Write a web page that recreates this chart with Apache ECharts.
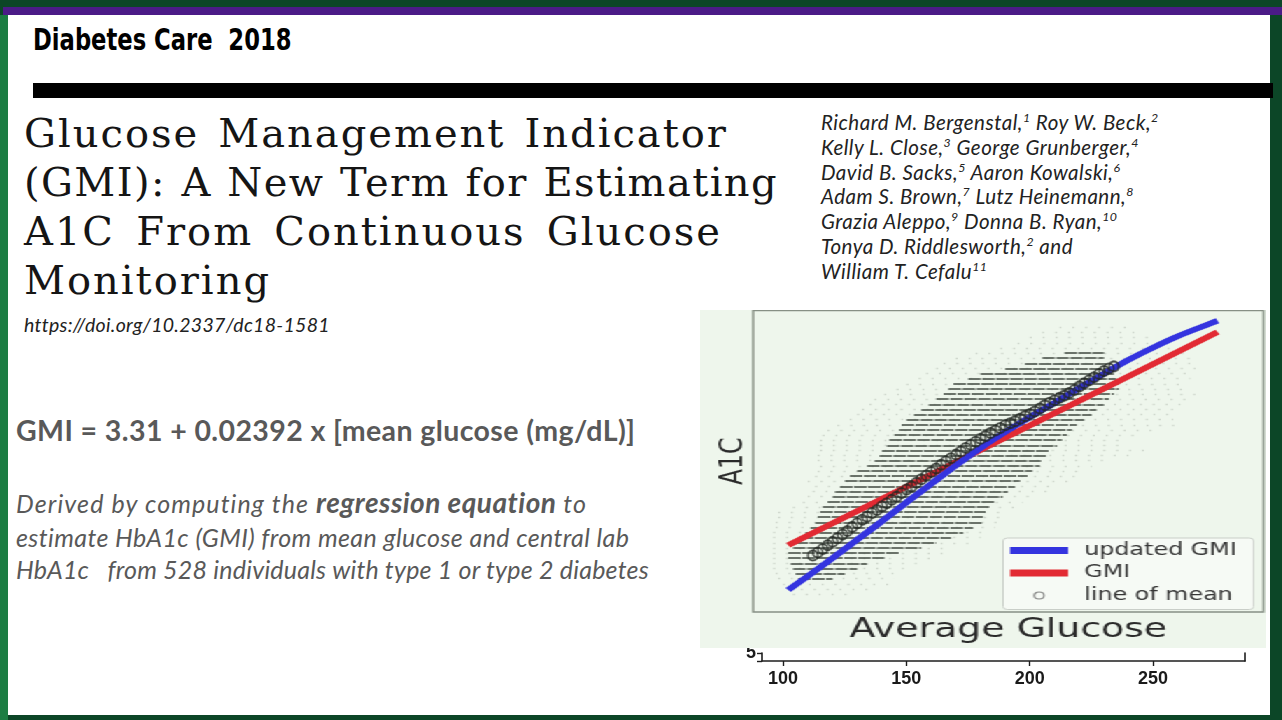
<!DOCTYPE html>
<html><head><meta charset="utf-8">
<script src="https://cdn.jsdelivr.net/npm/echarts@6/dist/echarts.min.js"></script>
<style>
html,body{margin:0;padding:0;width:1282px;height:720px;overflow:hidden;background:#0c4627;}
.abs{position:absolute;white-space:pre;line-height:1;}
#white{position:absolute;left:8px;top:15px;width:1262px;height:700px;background:#fff;}
#purple{position:absolute;left:3px;top:7px;width:1279px;height:8px;background:#4b1b87;}
#lstrip{position:absolute;left:0;top:15px;width:8px;height:705px;background:#1c7d43;}
#blackbar{position:absolute;left:33px;top:83px;width:1240px;height:15px;background:#000;}
#journal{left:33px;top:25px;font-family:"DejaVu Sans Condensed",Lato,sans-serif;font-weight:bold;font-size:30px;color:#000;transform:scaleX(0.84);transform-origin:0 0;}
.tl{position:absolute;left:24px;font-family:"DejaVu Serif",serif;font-size:40px;line-height:1;color:#151515;white-space:nowrap;text-align:justify;text-align-last:justify;letter-spacing:2px;}
#doi{left:24px;top:315px;font-family:Lato,sans-serif;font-style:italic;font-size:19.5px;letter-spacing:0.3px;color:#222;}
#authors{left:821px;top:110px;font-family:Lato,sans-serif;font-style:italic;font-size:20.5px;line-height:24.8px;color:#222;letter-spacing:0.5px;}
#authors sup{font-size:60%;vertical-align:0;position:relative;top:-0.65em;line-height:0;}
#formula{left:16px;top:416px;font-family:Lato,sans-serif;font-weight:bold;font-size:28.5px;letter-spacing:0.4px;color:#595959;}
.para{left:16px;font-family:Lato,sans-serif;font-style:italic;font-size:25px;letter-spacing:0.4px;color:#595959;}
.para b{font-size:28px;font-weight:bold;letter-spacing:0.5px;}
#chartTop{position:absolute;left:700px;top:310px;width:403.57px;height:338px;transform:scaleX(1.4);transform-origin:0 0;background:#eef6ec;z-index:3;}
#chartBottom{position:absolute;left:700px;top:640px;width:582px;height:60px;z-index:2;}
</style></head><body>
<div id="white"></div>
<div id="purple"></div>
<div id="lstrip"></div>
<div id="blackbar"></div>
<div id="journal" class="abs">Diabetes Care  2018</div>
<div class="tl" style="top:113px;width:704px;">Glucose Management Indicator</div>
<div class="tl" style="top:162px;width:754px;letter-spacing:1.4px;">(GMI): A New Term for Estimating</div>
<div class="tl" style="top:211px;width:698px;">A1C From Continuous Glucose</div>
<div class="tl" style="top:260px;">Monitoring</div>
<div id="doi" class="abs">https://doi.org/10.2337/dc18-1581</div>
<div id="authors" class="abs">Richard M. Bergenstal,<sup>1</sup> Roy W. Beck,<sup>2</sup>
Kelly L. Close,<sup>3</sup> George Grunberger,<sup>4</sup>
David B. Sacks,<sup>5</sup> Aaron Kowalski,<sup>6</sup>
Adam S. Brown,<sup>7</sup> Lutz Heinemann,<sup>8</sup>
Grazia Aleppo,<sup>9</sup> Donna B. Ryan,<sup>10</sup>
Tonya D. Riddlesworth,<sup>2</sup> and
William T. Cefalu<sup>11</sup></div>
<div id="formula" class="abs">GMI = 3.31 + 0.02392 x [mean glucose (mg/dL)]</div>
<div class="abs para" style="top:488px;letter-spacing:1.1px;">Derived by computing the <b>regression equation</b> to</div>
<div class="abs para" style="top:525px;">estimate HbA1c (GMI) from mean glucose and central lab</div>
<div class="abs para" style="top:557px;letter-spacing:0.22px;">HbA1c   from 528 individuals with type 1 or type 2 diabetes</div>
<div id="chartBottom"></div>
<div id="chartTop"></div>
<script>
// ---- scatter cloud: rows of points at each A1C level (glucose extents)
const rowLevel = [4.8,4.9,5.0,5.1,5.2,5.3,5.4,5.5,5.6,5.7,5.8,5.9,6.0,6.1,6.2,6.3,6.4,6.5,6.6,6.7,6.8,6.9,7.0,7.1,7.2,7.3,7.4,7.5,7.6,7.7,7.8,7.9,8.0,8.1,8.2,8.3,8.4,8.5,8.6,8.7,8.8,8.9,9.0,9.1,9.2,9.3,9.4,9.5,9.6,9.7,9.8,9.9,10.0];
const sparseLo = [104,102,100,98,97,96,96,96,96,96,96,96,96,97,97,98,98,104,108,110,112,113,110,113,114,115,114,114,115,115,115,116,118,122,127,130,132,135,137,141,146,150,155,158,162,165,170,178,188,195,200,205,212];
const sparseHi = [128,135,143,145,145,150,154,160,166,168,175,180,184,186,187,188,189,194,197,203,208,212,216,218,220,225,230,240,248,240,238,246,250,260,258,256,258,261,263,268,266,264,265,266,267,268,266,264,258,252,250,245,240];
const denseLo = [null,null,null,106,105,104,103,102,102,104,105,107,109,111,113,114,115,116,118,120,121,123,125,127,130,134,137,139,140,142,143,145,147,148,150,153,156,159,162,165,167,169,175,180,190,198,205,214,null,null,null,null,null];
const denseHi = [null,null,null,120,125,130,134,141,147,156,162,168,173,177,181,181,182,184,186,189,191,194,196,199,201,204,205,207,208,211,213,215,217,219,222,225,227,230,232,234,236,236,235,234,232,231,230,230,null,null,null,null,null];

// ---- updated GMI (blue curve)
const blueG = [102,110,120,130,140,150,160,170,180,190,200,210,220,230,240,250,260,270,276];
const blueA1C = [4.88,5.15,5.50,5.86,6.22,6.59,6.95,7.31,7.65,7.96,8.25,8.53,8.82,9.10,9.37,9.61,9.83,10.02,10.13];

// ---- GMI (red line)
const gmiG = [102,180,276];
const gmiA1C = [5.75,7.61,9.91];

// ---- line of mean (circles)
const meanG = [112,114,116,118,120,122,124,126,128,130,132,134,136,138,140,142,144,146,148,150,152,154,156,158,160,162,164,166,168,170,172,174,176,178,180,182,184,186,188,190,192,194,196,198,200,202,204,206,208,210,212,214,216,218,220,222,224,226,228,230,232,234];
const meanA1C = [5.55,5.61,5.68,5.75,5.82,5.89,5.96,6.03,6.11,6.18,6.25,6.31,6.38,6.44,6.51,6.57,6.64,6.70,6.77,6.84,6.90,6.97,7.04,7.11,7.18,7.25,7.32,7.39,7.45,7.52,7.58,7.65,7.71,7.77,7.83,7.88,7.94,7.99,8.04,8.09,8.13,8.17,8.22,8.27,8.31,8.36,8.42,8.48,8.53,8.58,8.63,8.67,8.72,8.78,8.85,8.91,8.97,9.03,9.09,9.15,9.20,9.24];

// ---- lower axis tick labels
const xTicks = [100,150,200,250];
const yTicks = [5];

const seriesNames = ['updated GMI','GMI','line of mean'];

const sparseRows = [], denseRows = [];
rowLevel.forEach((L,i)=>{
  sparseRows.push({coords:[[sparseLo[i],L],[sparseHi[i],L]]});
  if (denseLo[i] != null) denseRows.push({coords:[[denseLo[i],L],[denseHi[i],L]]});
});

const chartT = echarts.init(document.getElementById('chartTop'));
chartT.setOption({
  animation:false,
  grid:{left:37.9,right:1.5,top:0.5,bottom:33,show:true,borderColor:'#879085',borderWidth:1.5,backgroundColor:'transparent'},
  xAxis:{type:'value',min:87.8,max:294.6,name:'Average Glucose',nameLocation:'middle',nameGap:4,
    nameTextStyle:{fontFamily:'DejaVu Sans',fontSize:27,color:'#2a2a2a',verticalAlign:'top'},
    axisLine:{show:false},axisTick:{show:false},axisLabel:{show:false},splitLine:{show:false}},
  yAxis:{type:'value',min:4.45,max:10.33,name:'A1C',nameLocation:'middle',nameGap:2,nameRotate:90,
    nameTextStyle:{fontFamily:'DejaVu Sans',fontSize:23.5,color:'#2a2a2a'},
    axisLine:{show:false},axisTick:{show:false},axisLabel:{show:false},splitLine:{show:false}},
  legend:{left:216.5,top:228,orient:'vertical',padding:[4,12,5.5,5],itemWidth:41.5,itemHeight:7,itemGap:5.5,
    backgroundColor:'rgba(246,250,245,0.96)',borderColor:'#c9cec8',borderWidth:1,borderRadius:3,
    textStyle:{fontFamily:'DejaVu Sans',fontSize:17,lineHeight:17,color:'#363636',padding:[0,0,0,6.5]},
    data:[{name:seriesNames[0],icon:'rect'},{name:seriesNames[1],icon:'rect'},
      {name:seriesNames[2],icon:'circle',itemStyle:{color:'rgba(0,0,0,0)',borderColor:'#6a6a6a',borderWidth:1.2}}]},
  series:[
    {type:'lines',name:'cloud-sparse',coordinateSystem:'cartesian2d',silent:true,z:1,
      lineStyle:{color:'#7f887d',width:1.4,type:[1.2,8],opacity:0.33},data:sparseRows},
    {type:'lines',name:'cloud-dense',coordinateSystem:'cartesian2d',silent:true,z:2,
      lineStyle:{color:'#4a524a',width:2,type:[9,1],opacity:0.8},data:denseRows},
    {type:'line',name:seriesNames[1],z:3,color:'#e22a33',showSymbol:false,symbol:'none',
      itemStyle:{color:'#e22a33'},lineStyle:{color:'#e22a33',width:5.5},
      data:gmiG.map((g,i)=>[g,gmiA1C[i]])},
    {type:'line',name:seriesNames[0],z:4,color:'#3434df',showSymbol:false,symbol:'none',smooth:0.3,
      itemStyle:{color:'#3434df'},lineStyle:{color:'#3434df',width:5.5},
      data:blueG.map((g,i)=>[g,blueA1C[i]])},
    {type:'scatter',name:seriesNames[2],z:5,symbol:'circle',symbolSize:[7,10],
      itemStyle:{color:'rgba(0,0,0,0)',borderColor:'#232823',borderWidth:1.7},
      data:meanG.map((g,i)=>[g,meanA1C[i]])}
  ]
});

const chartB = echarts.init(document.getElementById('chartBottom'));
chartB.setOption({
  animation:false,
  grid:{left:62,right:37,top:13,bottom:39},
  xAxis:{type:'value',min:91.5,max:287.3,
    axisLine:{show:true,lineStyle:{color:'#1e1e1e',width:1.6}},
    axisTick:{show:true,length:5,lineStyle:{color:'#1e1e1e',width:1.4},customValues:xTicks},
    axisLabel:{show:true,margin:9,fontFamily:'Liberation Sans',fontSize:18,fontWeight:'bold',color:'#1a1a1a',customValues:xTicks},
    splitLine:{show:false}},
  yAxis:[
    {type:'value',min:4.8,max:5,interval:0.2,position:'left',
      axisLine:{show:true,lineStyle:{color:'#1e1e1e',width:1.6}},
      axisTick:{show:true,length:5,lineStyle:{color:'#1e1e1e',width:1.4}},
      axisLabel:{show:true,margin:6,fontFamily:'Liberation Sans',fontSize:18,fontWeight:'bold',color:'#1a1a1a',
        formatter:v=>yTicks.indexOf(Math.round(v*10)/10)>=0?String(Math.round(v)):''},
      splitLine:{show:false}},
    {type:'value',min:4.8,max:5,interval:0.2,position:'right',
      axisLine:{show:true,lineStyle:{color:'#1e1e1e',width:1.6}},
      axisTick:{show:false},axisLabel:{show:false},splitLine:{show:false}}
  ],
  series:[]
});
</script>
</body></html>
